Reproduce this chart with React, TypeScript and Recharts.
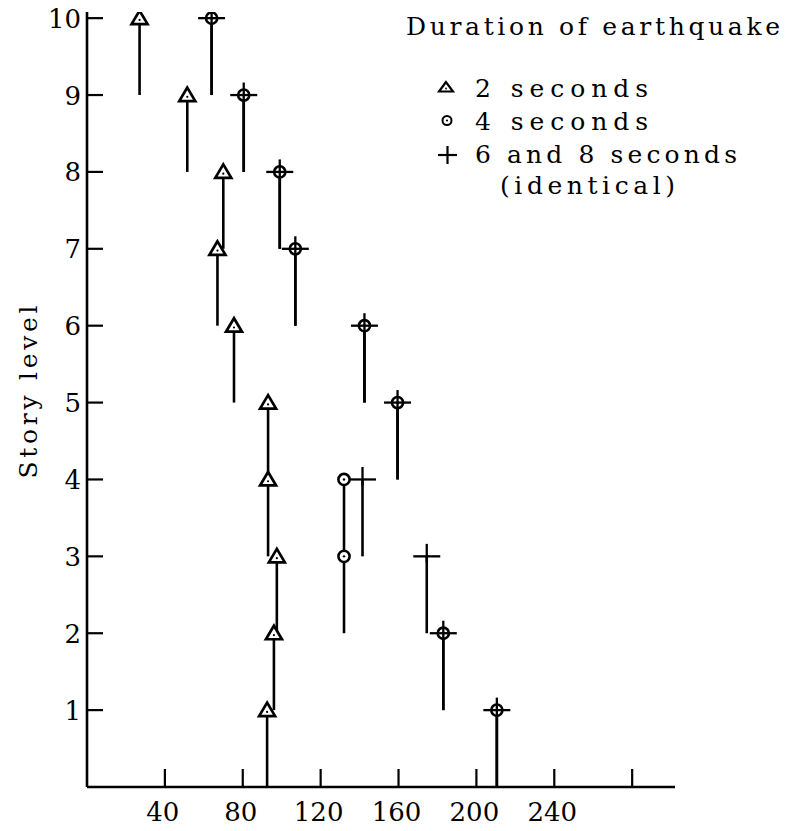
import React from 'react';
import { ScatterChart, Scatter, XAxis, YAxis, ErrorBar, Legend } from 'recharts';

// ---- data ----
const storyLevels = [10, 9, 8, 7, 6, 5, 4, 3, 2, 1];
const twoSeconds = [27, 51.5, 70, 67, 75.5, 93, 93, 97.5, 96, 92.5];
const fourSeconds = [64, 80.5, 99, 107, 142.5, 159.5, 132, 132, 183, 210.5];
const sixEightSeconds = [64, 80.5, 99, 107, 142.5, 159.5, 141.5, 174.5, 183, 210.5];
// each value holds from the story below up to its own story
const storySpan = [1, 0];

const xTicks = [40, 80, 120, 160, 200, 240, 280];
const xTickLabels = ['40', '80', '120', '160', '200', '240', ''];
const yTicks = [1, 2, 3, 4, 5, 6, 7, 8, 9, 10];

const legendTitle = 'Duration of earthquake';
const seriesLabels = ['2 seconds', '4 seconds', '6 and 8 seconds', '(identical)'];
const yAxisTitle = 'Story level';

const build = (values: number[]) =>
  storyLevels.map((s, i) => ({ x: values[i], y: s, span: storySpan }));

const dataTwo = build(twoSeconds);
const dataFour = build(fourSeconds);
const dataSixEight = build(sixEightSeconds);

const FONT = "'DejaVu Serif', serif";
const INK = '#000';

// ---- marker shapes ----
const TriangleShape = (props: any) => {
  const { cx, cy } = props;
  if (cx == null || cy == null) return null;
  return (
    <g>
      <polygon
        points={`${cx},${cy - 7.5} ${cx - 8},${cy + 6} ${cx + 8},${cy + 6}`}
        fill="#fff"
        stroke={INK}
        strokeWidth={2.7}
      />
      <circle cx={cx} cy={cy + 1.8} r={1.1} fill={INK} />
    </g>
  );
};

const CircleShape = (props: any) => {
  const { cx, cy } = props;
  if (cx == null || cy == null) return null;
  return (
    <g>
      <circle cx={cx} cy={cy} r={5.6} fill="#fff" stroke={INK} strokeWidth={2.6} />
      <circle cx={cx} cy={cy} r={1.2} fill={INK} />
    </g>
  );
};

const CrossShape = (props: any) => {
  const { cx, cy } = props;
  if (cx == null || cy == null) return null;
  return (
    <g stroke={INK} strokeWidth={2.3}>
      <line x1={cx - 13.5} y1={cy} x2={cx + 13.5} y2={cy} />
      <line x1={cx} y1={cy - 12.5} x2={cx} y2={cy + 6} />
    </g>
  );
};

// ---- ticks ----
const XTick = (props: any) => {
  const { x, y, payload } = props;
  const label = xTickLabels[xTicks.indexOf(payload.value)] ?? '';
  return (
    <g>
      <line x1={x} y1={y} x2={x} y2={y - 18} stroke={INK} strokeWidth={2.2} />
      {label ? (
        <text
          x={x - 2}
          y={y + 34}
          textAnchor="middle"
          fontFamily={FONT}
          fontSize={26}
          fill={INK}
        >
          {label}
        </text>
      ) : null}
    </g>
  );
};

const YTick = (props: any) => {
  const { x, y, payload } = props;
  return (
    <g>
      <line x1={x} y1={y} x2={x + 16} y2={y} stroke={INK} strokeWidth={2.2} />
      <text
        x={x - 6}
        y={y + 9.5}
        textAnchor="end"
        fontFamily={FONT}
        fontSize={26}
        fill={INK}
      >
        {payload.value}
      </text>
    </g>
  );
};

const StoryLabel = (props: any) => {
  const vb = props.viewBox || { x: 0, y: 0, width: 0, height: 0 };
  const tx = vb.x + 37;
  const ty = vb.y + vb.height / 2 - 7.5;
  return (
    <text
      x={tx}
      y={ty}
      textAnchor="middle"
      transform={`rotate(-90, ${tx}, ${ty})`}
      fontFamily={FONT}
      fontSize={25}
      fill={INK}
      textLength={173}
      lengthAdjust="spacing"
    >
      {yAxisTitle}
    </text>
  );
};

// ---- legend ----
const LegendBox = () => (
  <svg width={388} height={210} style={{ display: 'block', overflow: 'visible' }}>
    <g fontFamily={FONT} fill={INK}>
      <text x={6} y={35} fontSize={25} textLength={374} lengthAdjust="spacing">
        {legendTitle}
      </text>
      <polygon
        points="46,82 39,91.5 53,91.5"
        fill="#fff"
        stroke={INK}
        strokeWidth={2.2}
      />
      <circle cx={46} cy={88.5} r={0.9} fill={INK} />
      <text x={75} y={97} fontSize={25} textLength={173} lengthAdjust="spacing">
        {seriesLabels[0]}
      </text>
      <circle cx={47} cy={120.5} r={4.5} fill="#fff" stroke={INK} strokeWidth={2} />
      <circle cx={47} cy={120.5} r={1.1} fill={INK} />
      <text x={75} y={130} fontSize={25} textLength={173} lengthAdjust="spacing">
        {seriesLabels[1]}
      </text>
      <g stroke={INK} strokeWidth={2.2}>
        <line x1={38} y1={155} x2={57} y2={155} />
        <line x1={47.5} y1={146} x2={47.5} y2={164} />
      </g>
      <text x={75} y={163} fontSize={25} textLength={262} lengthAdjust="spacing">
        {seriesLabels[2]}
      </text>
      <text x={100} y={194} fontSize={25} textLength={175} lengthAdjust="spacing">
        {seriesLabels[3]}
      </text>
    </g>
  </svg>
);

export default function App() {
  return (
    <div style={{ position: 'absolute', left: 0, top: 0, background: '#fff' }}>
      <ScatterChart
        width={788}
        height={831}
        margin={{ top: 12, right: 113, bottom: 0, left: 0 }}
      >
        <XAxis
          type="number"
          dataKey="x"
          domain={[0, 302]}
          ticks={xTicks}
          interval={0}
          tick={XTick}
          tickLine={false}
          tickSize={0}
          tickMargin={0}
          height={44}
          allowDataOverflow
          axisLine={{ stroke: INK, strokeWidth: 2.6 }}
        />
        <YAxis
          type="number"
          dataKey="y"
          domain={[0, 10.08]}
          ticks={yTicks}
          interval={0}
          tick={YTick}
          tickLine={false}
          tickSize={0}
          tickMargin={0}
          width={87}
          allowDataOverflow
          axisLine={{ stroke: INK, strokeWidth: 2.6 }}
          label={{ value: yAxisTitle, content: StoryLabel }}
        />
        <Legend
          layout="vertical"
          align="center"
          verticalAlign="middle"
          width={388}
          height={210}
          wrapperStyle={{ left: 400, top: 0, width: 388, height: 210 }}
          content={LegendBox}
        />
        <Scatter
          name={seriesLabels[0]}
          data={dataTwo}
          shape={TriangleShape}
          isAnimationActive={false}
        >
          <ErrorBar
            dataKey="span"
            direction="y"
            width={0}
            stroke={INK}
            strokeWidth={2.6}
            isAnimationActive={false}
          />
        </Scatter>
        <Scatter
          name={seriesLabels[1]}
          data={dataFour}
          shape={CircleShape}
          isAnimationActive={false}
        >
          <ErrorBar
            dataKey="span"
            direction="y"
            width={0}
            stroke={INK}
            strokeWidth={2.6}
            isAnimationActive={false}
          />
        </Scatter>
        <Scatter
          name={seriesLabels[2]}
          data={dataSixEight}
          shape={CrossShape}
          isAnimationActive={false}
        >
          <ErrorBar
            dataKey="span"
            direction="y"
            width={0}
            stroke={INK}
            strokeWidth={2.6}
            isAnimationActive={false}
          />
        </Scatter>
      </ScatterChart>
    </div>
  );
}
